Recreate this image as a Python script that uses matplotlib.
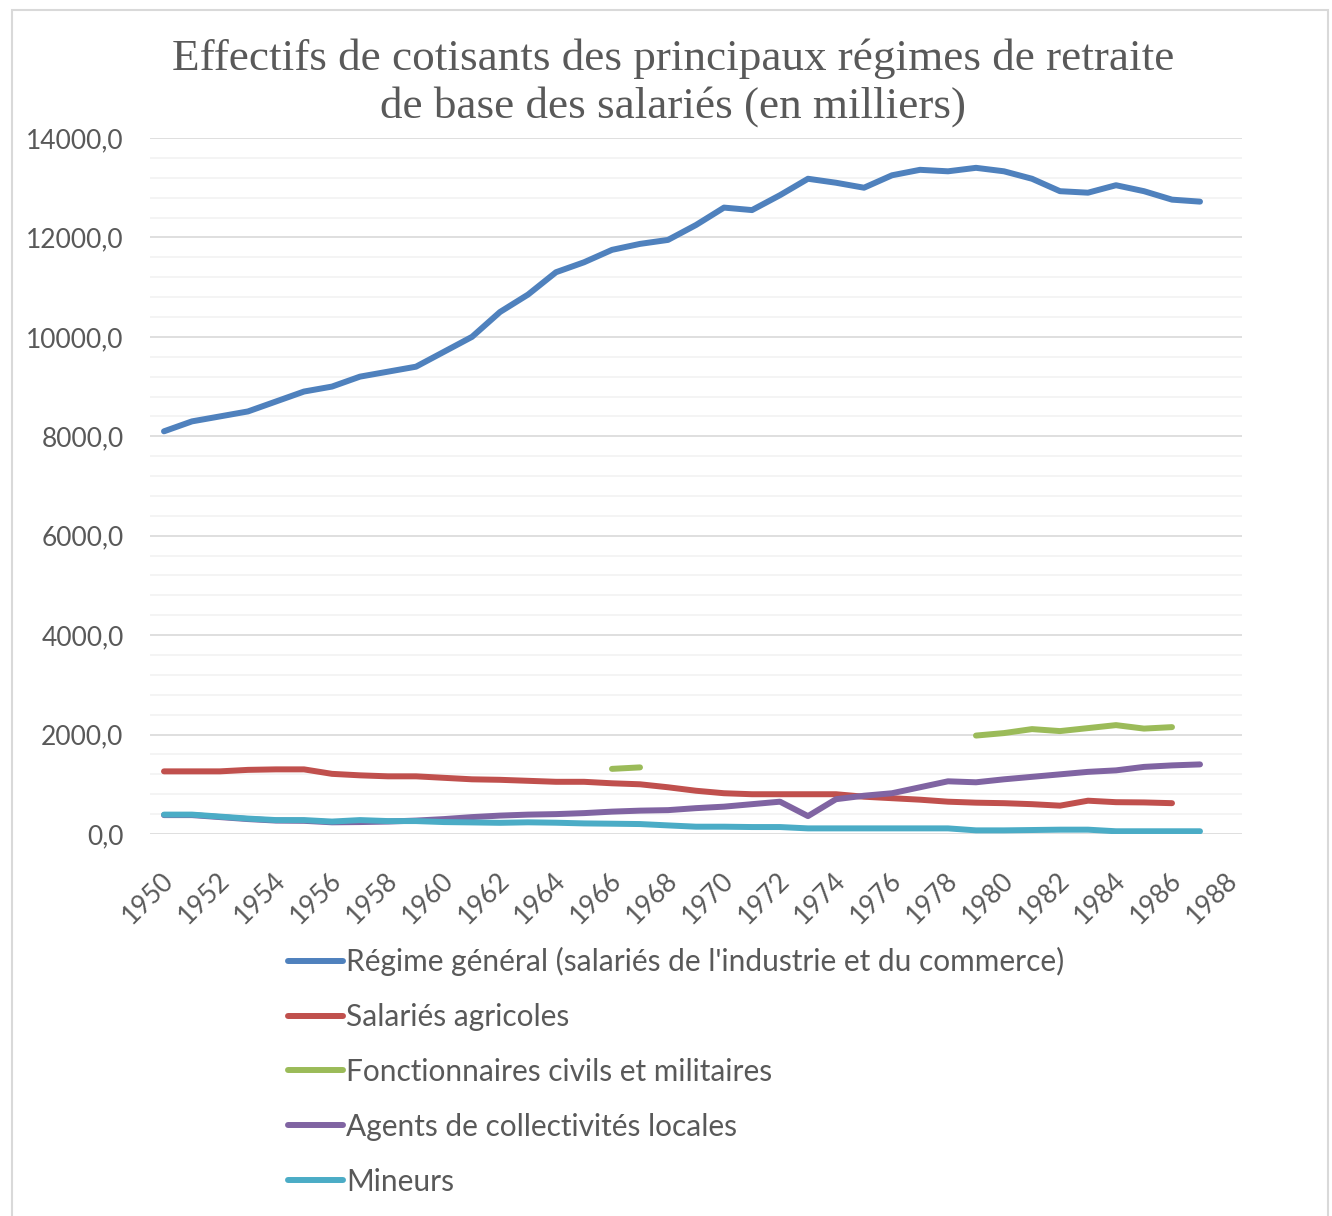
import numpy as np
import matplotlib
matplotlib.use("Agg")
import matplotlib.pyplot as plt
import matplotlib.transforms as mtransforms
from matplotlib.patches import Rectangle
from matplotlib.ticker import MultipleLocator, FuncFormatter

nan = np.nan

# categories 1950..1988 (1988 has no data)
years = list(range(1950, 1989))

regime_general = [8100, 8300, 8400, 8500, 8700, 8900, 9000, 9200, 9300, 9400,
                  9700, 10000, 10500, 10850, 11300, 11500, 11750, 11870, 11950, 12250,
                  12600, 12550, 12850, 13180, 13100, 13000, 13250, 13360, 13330, 13400,
                  13330, 13180, 12930, 12900, 13050, 12930, 12760, 12720, nan]

salaries_agricoles = [1260, 1260, 1260, 1290, 1300, 1300, 1210, 1180, 1160, 1160,
                      1130, 1100, 1090, 1070, 1050, 1050, 1020, 1000, 940, 870,
                      820, 800, 800, 800, 800, 750, 720, 690, 650, 630,
                      620, 600, 570, 670, 640, 635, 620, nan, nan]

fonctionnaires = [nan] * 16 + [1310, 1340] + [nan] * 11 + \
                 [1980, 2030, 2110, 2070, 2130, 2190, 2120, 2150, nan, nan]

agents_locaux = [380, 380, 340, 300, 270, 265, 235, 240, 250, 270,
                 300, 340, 370, 390, 400, 420, 450, 470, 480, 520,
                 550, 600, 650, 360, 700, 770, 820, 940, 1060, 1040,
                 1100, 1150, 1200, 1250, 1280, 1350, 1380, 1400, nan]

mineurs = [390, 390, 350, 310, 280, 280, 250, 280, 260, 260,
           240, 233, 225, 235, 227, 213, 207, 200, 173, 147,
           147, 140, 140, 113, 113, 113, 113, 113, 113, 73,
           73, 80, 87, 87, 55, 55, 55, 55, nan]

labels = ["Régime général (salariés de l'industrie et du commerce)",
          "Salariés agricoles",
          "Fonctionnaires civils et militaires",
          "Agents de collectivités locales",
          "Mineurs"]
colors = ["#4f81bd", "#c0504d", "#9bbb59", "#8064a2", "#4bacc6"]
series = [regime_general, salaries_agricoles, fonctionnaires, agents_locaux, mineurs]

txt = "#595959"
W, H = 1332, 1216
fig = plt.figure(figsize=(W / 100, H / 100), dpi=100)
ax = fig.add_axes([150 / W, 1 - 834 / H, (1242 - 150) / W, (834 - 138) / H])

fig.patches.append(Rectangle((12 / W, -0.01), (1328 - 12) / W, (1216 - 10) / H + 0.01,
                             transform=fig.transFigure, fill=False,
                             edgecolor="#d9d9d9", lw=1.5))

x = np.arange(len(years))
for ys, c, lab in zip(series, colors, labels):
    ax.plot(x, ys, color=c, lw=4.3, label=lab,
            solid_capstyle="round", solid_joinstyle="round")

ax.set_xlim(-0.5, len(years) - 0.5)
ax.set_ylim(0, 14000)
ax.yaxis.set_major_locator(MultipleLocator(2000))
ax.yaxis.set_minor_locator(MultipleLocator(400))
ax.yaxis.set_major_formatter(FuncFormatter(lambda v, p: f"{v:.1f}".replace(".", ",")))
ax.grid(axis="y", which="major", color="#d9d9d9", lw=1.2)
ax.grid(axis="y", which="minor", color="#f2f2f2", lw=1.2)
ax.set_axisbelow(True)
for s in ax.spines.values():
    s.set_visible(False)
ax.tick_params(axis="y", which="both", length=0, pad=19, labelsize=19, labelcolor=txt)

ax.set_xticks(x[::2])
ax.set_xticklabels([str(y) for y in years[::2]])
ax.tick_params(axis="x", length=0, pad=24, labelsize=19, labelcolor=txt)
off = mtransforms.ScaledTranslation(-3 / 100, 0, fig.dpi_scale_trans)
for t in ax.get_xticklabels():
    t.set_rotation(45)
    t.set_ha("right")
    t.set_va("top")
    t.set_rotation_mode("anchor")
    t.set_transform(t.get_transform() + off)

for t in ax.get_xticklabels() + ax.get_yticklabels():
    t.set_fontfamily("Lato")

fig.text(673 / W, 1 - 83 / H,
         "Effectifs de cotisants des principaux régimes de retraite\nde base des salariés (en milliers)",
         ha="center", va="center", fontsize=32.5, color=txt,
         family="Liberation Serif", linespacing=1.22)

fig.legend(loc="upper left", bbox_to_anchor=(288 / W, 1 - 947 / H),
           frameon=False, prop={"family": "Lato", "size": 21.5},
           labelcolor=txt, handlelength=1.84, handletextpad=0.1,
           labelspacing=0.9, borderpad=0, borderaxespad=0)

fig.savefig("out.png", dpi=100, facecolor="white")
